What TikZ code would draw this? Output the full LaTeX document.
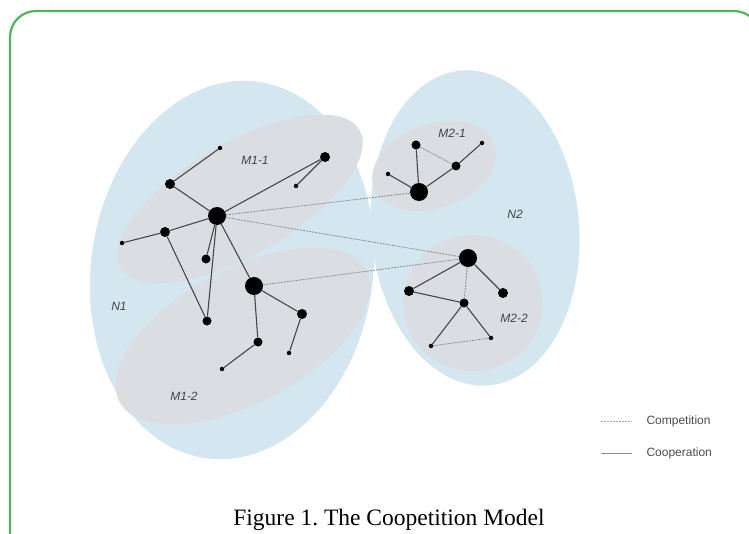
\documentclass[tikz,border=0pt]{standalone}
\usepackage{fontspec}
\setmainfont{Liberation Serif}
\newfontfamily\labfont{Liberation Sans}
\definecolor{nblue}{HTML}{D4E7F1}
\definecolor{mgray}{HTML}{DADEE2}
\definecolor{gborder}{HTML}{52B35C}
\definecolor{labcol}{HTML}{444444}
\frenchspacing
\begin{document}
\begin{tikzpicture}[x=1pt,y=-1pt,
  big/.style={circle,fill=black,inner sep=0pt,minimum size=18pt},
  med/.style={circle,fill=black,inner sep=0pt,minimum size=10pt},
  sml/.style={circle,fill=black,inner sep=0pt,minimum size=9pt},
  tiny/.style={circle,fill=black,inner sep=0pt,minimum size=4.5pt},
  coop/.style={draw=black!72,line width=1.1pt},
  comp/.style={draw=black!45,line width=0.8pt,dash pattern=on 2pt off 1pt},
  lab/.style={font=\labfont\itshape\fontsize{12}{14}\selectfont,text=labcol},
  leg/.style={font=\labfont\fontsize{12}{14}\selectfont,text=black!70,anchor=west}]
\useasboundingbox (0,0) rectangle (749,534);
\begin{scope}
\clip (0,0) rectangle (749,534);
\draw[gborder,line width=2.2pt,rounded corners=26pt] (10,11) rectangle (760,570);
\end{scope}
% big regions
\fill[nblue,rotate around={-8:(232,270)}] (232,270) ellipse [x radius=141pt,y radius=190pt];
\fill[nblue,rotate around={5:(475,228)}] (475,228) ellipse [x radius=104pt,y radius=158pt];
% sub regions
\fill[mgray,rotate around={30:(240,199)}] (240,199) ellipse [x radius=138pt,y radius=56pt];
\fill[mgray,rotate around={28:(243,336)}] (243,336) ellipse [x radius=140pt,y radius=67pt];
\fill[mgray,rotate around={20:(434,166)}] (434,166) ellipse [x radius=64pt,y radius=42pt];
\fill[mgray] (473,303) ellipse [x radius=70pt,y radius=68pt];
% labels
\node[lab] (lM11) at (255,160) {M1-1};
\node[lab] (lM12) at (184,396) {M1-2};
\node[lab] (lN1) at (119,306) {N1};
\node[lab] (lM21) at (452,133) {M2-1};
\node[lab] (lN2) at (515,214) {N2};
\node[lab] (lM22) at (514,318) {M2-2};
% nodes N1
\node[big] (A) at (217,216) {};
\node[med] (a1) at (170,184) {};
\node[tiny] (a1s) at (220,148) {};
\node[med] (a2) at (325,157) {};
\node[tiny] (a2s) at (296,186) {};
\node[med] (a3) at (165,232) {};
\node[tiny] (a3s) at (122,243) {};
\node[sml] (a4) at (206,259) {};
\node[sml] (a5) at (207,321) {};
\node[big] (B) at (254,286) {};
\node[med] (b1) at (302,314) {};
\node[tiny] (b1s) at (289,353) {};
\node[sml] (b2) at (258,342) {};
\node[tiny] (b2s) at (222,369) {};
% nodes N2
\node[big] (C) at (419,192) {};
\node[sml] (c1) at (416,145) {};
\node[sml] (c2) at (456,166) {};
\node[tiny] (c3) at (388,174) {};
\node[tiny] (c4) at (482,143) {};
\node[big] (D) at (468,258) {};
\node[med] (d1) at (409,291) {};
\node[med] (d2) at (503,293) {};
\node[sml] (d3) at (464,303) {};
\node[tiny] (d4) at (431,346) {};
\node[tiny] (d5) at (491,338) {};
% cooperation edges
\draw[coop] (A) -- (a1);
\draw[coop] (a1) -- (a1s);
\draw[coop] (A) -- (a2);
\draw[coop] (a2) -- (a2s);
\draw[coop] (A) -- (a3);
\draw[coop] (a3) -- (a3s);
\draw[coop] (A) -- (a4);
\draw[coop] (A) -- (a5);
\draw[coop] (a3) -- (a5);
\draw[coop] (A) -- (B);
\draw[coop] (B) -- (b1);
\draw[coop] (b1) -- (b1s);
\draw[coop] (B) -- (b2);
\draw[coop] (b2) -- (b2s);
\draw[coop] (C) -- (c1);
\draw[coop] (C) -- (c2);
\draw[coop] (C) -- (c3);
\draw[coop] (c2) -- (c4);
\draw[coop] (D) -- (d1);
\draw[coop] (D) -- (d2);
\draw[coop] (d1) -- (d3);
\draw[coop] (d3) -- (d4);
\draw[coop] (d3) -- (d5);
% competition edges
\draw[comp] (A) -- (C);
\draw[comp] (A) -- (D);
\draw[comp] (B) -- (D);
\draw[comp] (c1) -- (c2);
\draw[comp] (D) -- (d3);
\draw[comp] (d4) -- (d5);
% legend
\coordinate (l1a) at (601,421);
\coordinate (l1b) at (632,421);
\coordinate (l2a) at (601,453);
\coordinate (l2b) at (632,453);
\draw[comp,draw=black!35] (l1a) -- (l1b);
\draw[draw=black!45,line width=0.9pt] (l2a) -- (l2b);
\node[leg] (t1) at (643,421) {Competition};
\node[leg] (t2) at (643,453) {Cooperation};
% caption
\node[font=\fontsize{23.5}{26}\selectfont] (cap) at (389,520) {Figure 1. The Coopetition Model};
\end{tikzpicture}
\end{document}
